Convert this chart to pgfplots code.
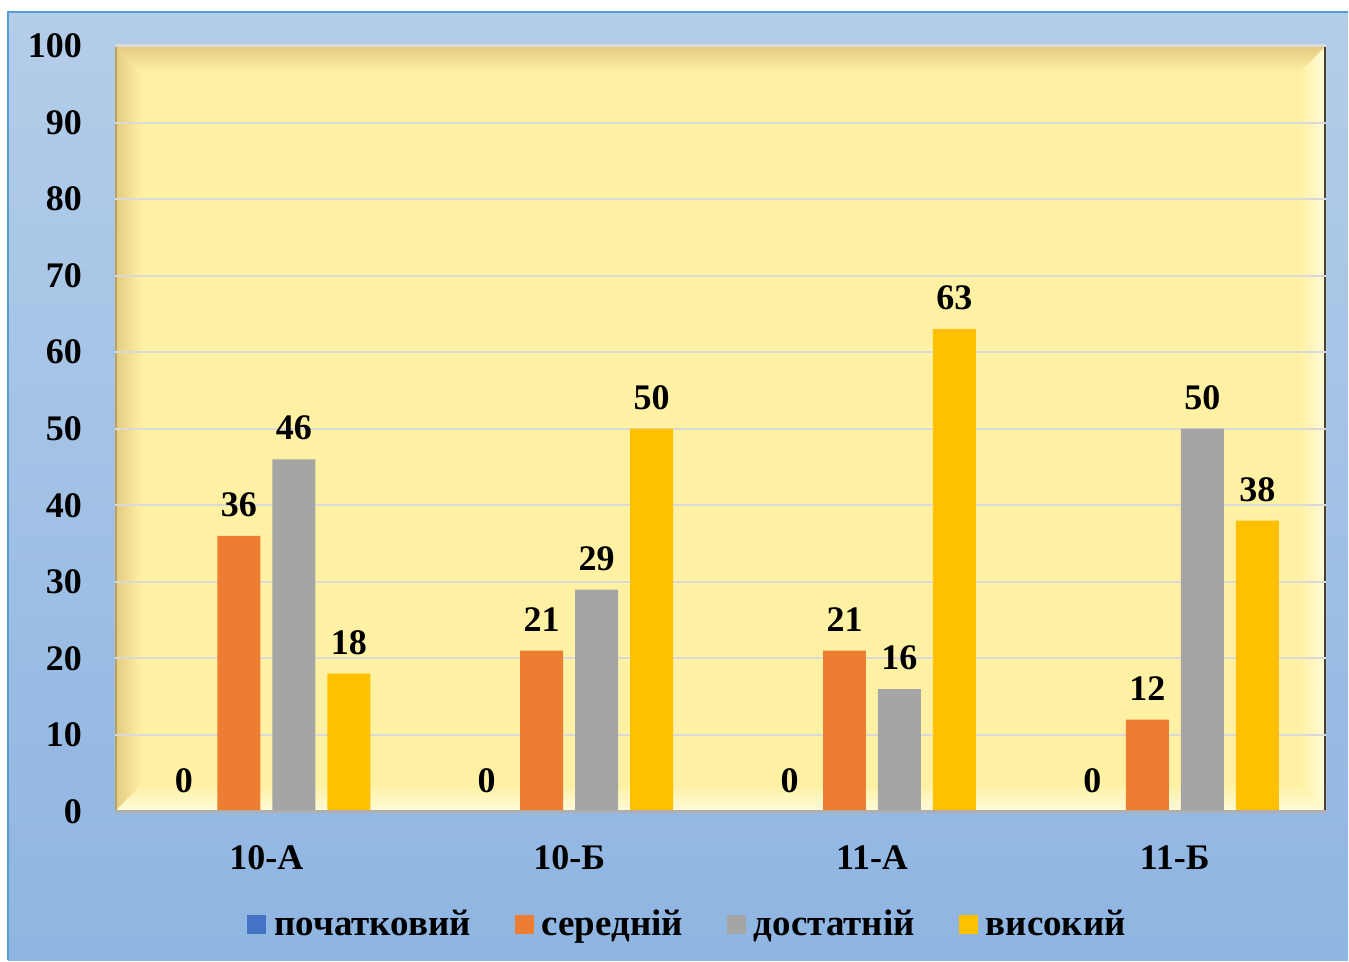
\documentclass[border=0pt]{standalone}
\usepackage{fontspec}
\setmainfont{Liberation Serif}
\usepackage{pgfplots}
\pgfplotsset{compat=1.18}
\definecolor{bgtop}{HTML}{B4CDE9}
\definecolor{bgbot}{HTML}{8FB5E2}
\definecolor{bgline}{HTML}{5B9BD5}
\definecolor{plotyel}{HTML}{FFF1A3}
\definecolor{bevdark}{HTML}{E3CB80}
\definecolor{bevlight}{HTML}{FFFBDC}
\definecolor{edgedark}{HTML}{4A4030}
\definecolor{gridc}{HTML}{D9D9D9}
\definecolor{cblue}{HTML}{4472C4}
\definecolor{corange}{HTML}{ED7D31}
\definecolor{cgray}{HTML}{A5A5A5}
\definecolor{cyellow}{HTML}{FFC000}
\begin{document}
\begin{tikzpicture}
\fill[white] (0pt,0pt) rectangle (674.5pt,480.5pt);
\shade[top color=bgtop,bottom color=bgbot] (4pt,0pt) rectangle (674.5pt,474.5pt);
\draw[bgline,line width=0.8pt] (4pt,0pt) -- (4pt,474.5pt) -- (674.5pt,474.5pt);
% plot area with bevel
\fill[plotyel] (57.5pt,74.5pt) rectangle (663.5pt,457.5pt);
\shade[top color=bevdark, bottom color=plotyel] (57.5pt,457.5pt) -- (663.5pt,457.5pt) -- (650pt,444pt) -- (71pt,444pt) -- cycle;
\shade[left color=bevdark, right color=plotyel] (57.5pt,74.5pt) -- (71pt,88pt) -- (71pt,444pt) -- (57.5pt,457.5pt) -- cycle;
\shade[bottom color=bevlight, top color=plotyel] (57.5pt,74.5pt) -- (663.5pt,74.5pt) -- (650pt,88pt) -- (71pt,88pt) -- cycle;
\shade[right color=bevlight, left color=plotyel] (663.5pt,74.5pt) -- (663.5pt,457.5pt) -- (650pt,444pt) -- (650pt,88pt) -- cycle;
\draw[bevdark!80!black,line width=0.8pt] (58pt,75pt) -- (58pt,457.5pt);
\draw[edgedark,line width=1pt] (663pt,75pt) -- (663pt,457.5pt);
\draw[gridc,line width=1pt] (57.5pt,458pt) -- (663.5pt,458pt);
\begin{axis}[
  at={(57.5pt,74.5pt)}, anchor=south west,
  scale only axis, width=606pt, height=383pt,
  xmin=-0.5, xmax=3.5, ymin=0, ymax=100,
  ytick={0,10,...,100},
  xtick={0,1,2,3},
  xticklabels={10-А,10-Б,11-А,11-Б},
  ybar=6pt, bar width=21.5pt,
  axis line style={draw=none},
  major tick length=0pt,
  ymajorgrids, grid style={gridc,line width=1pt},
  /pgf/number format/assume math mode=true,
  yticklabel style={font=\bfseries\fontsize{18}{20}\selectfont, xshift=-13pt},
  xticklabel style={font=\bfseries\fontsize{18}{20}\selectfont, yshift=-13.5pt},
  nodes near coords,
  every node near coord/.append style={font=\bfseries\fontsize{18}{20}\selectfont, black, yshift=6pt},
  legend style={at={(0.4736,-0.1475)}, anchor=center, draw=none, fill=none,
    legend columns=4, font=\bfseries\fontsize{18.5}{20}\selectfont,
    /tikz/every odd column/.append style={column sep=2pt},
    /tikz/every even column/.append style={column sep=20pt}},
  legend image code/.code={\fill[#1] (0pt,-4.75pt) rectangle (9.5pt,4.75pt);},
  clip=false,
]
\addplot[fill=cblue, draw=none] coordinates {(0,0) (1,0) (2,0) (3,0)};
\addplot[fill=corange, draw=none] coordinates {(0,36) (1,21) (2,21) (3,12)};
\addplot[fill=cgray, draw=none] coordinates {(0,46) (1,29) (2,16) (3,50)};
\addplot[fill=cyellow, draw=none] coordinates {(0,18) (1,50) (2,63) (3,38)};
\legend{початковий, середній, достатній, високий}
\draw[gridc!80!black,line width=1.2pt] (rel axis cs:0,0) -- (rel axis cs:1,0);
\end{axis}
\end{tikzpicture}
\end{document}
